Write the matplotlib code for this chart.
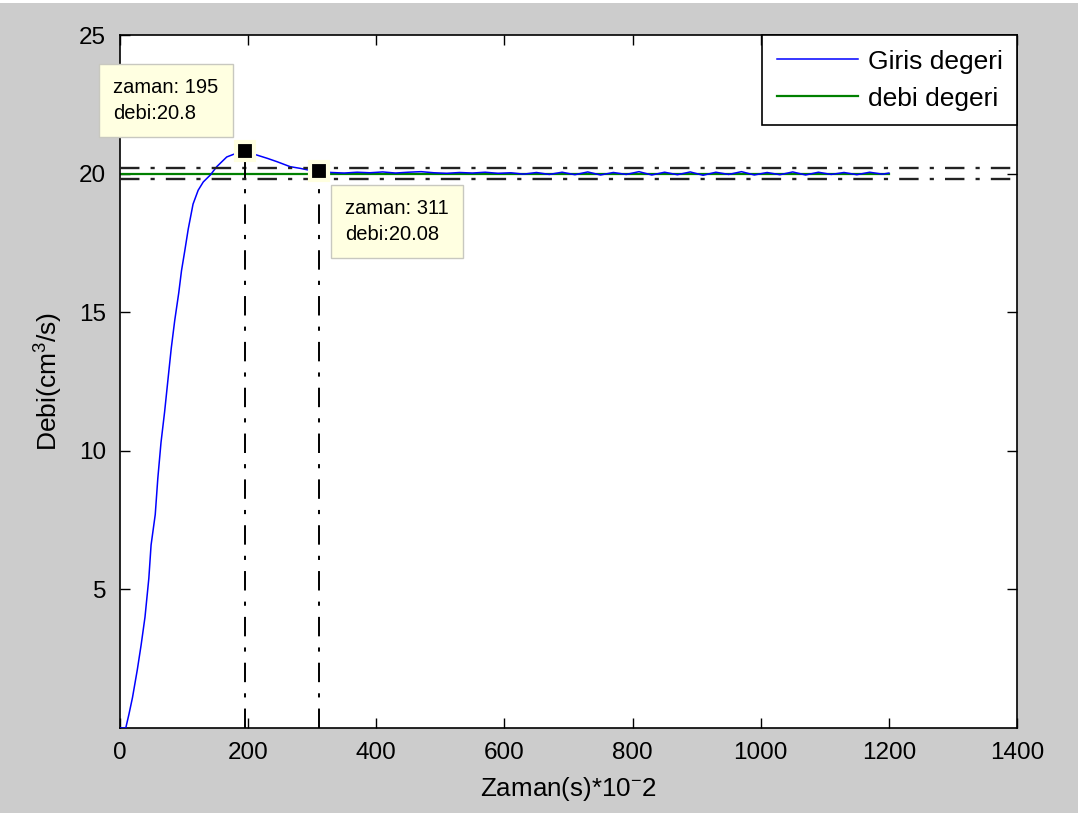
import matplotlib
matplotlib.use("Agg")
import matplotlib.pyplot as plt
from matplotlib.patches import Rectangle

plt.rcParams['font.family'] = ['Liberation Sans', 'DejaVu Sans']
plt.rcParams['mathtext.default'] = 'regular'
plt.rcParams['lines.scale_dashes'] = False

# Measured flow response (time in s*10^-2, flow in cm^3/s)
time_vals = [0, 9, 14, 19.5, 27, 33, 39, 45, 48.5, 55, 59, 64, 69.6, 75, 80,
             85.4, 91.7, 96, 101, 106.5, 114, 122, 130, 141, 151, 166.6, 180,
             195, 213.5, 230, 245, 265.6, 281, 296, 311,
             330, 350, 370, 390, 410, 430, 450, 470, 490, 510, 530, 550, 570,
             590, 610, 630, 650, 670, 690, 710, 730, 750, 770, 790, 810, 830,
             850, 870, 890, 910, 930, 950, 970, 990, 1010, 1030, 1050, 1070,
             1090, 1110, 1130, 1150, 1170, 1190, 1200]
flow_vals = [0, 0, 0.5, 1.1, 2.1, 3.0, 4.0, 5.4, 6.6, 7.7, 9.0, 10.3, 11.4, 12.6,
             13.7, 14.7, 15.7, 16.5, 17.2, 18.0, 18.9, 19.4, 19.7, 19.95, 20.25,
             20.6, 20.72, 20.8, 20.67, 20.55, 20.43, 20.25, 20.19, 20.12, 20.08,
             20.04, 20.02, 20.05, 20.03, 20.06, 20.02, 20.05, 20.07, 20.03, 20.01,
             20.04, 20.02, 20.05, 20.01, 20.03, 19.98, 20.04, 19.97, 20.05, 19.96,
             20.06, 19.95, 20.04, 19.97, 20.07, 19.95, 20.05, 19.96, 20.06, 19.94,
             20.05, 19.97, 20.07, 19.95, 20.04, 19.96, 20.06, 19.95, 20.05, 19.97,
             20.04, 19.96, 20.05, 19.98, 20.02]

# Reference (set) flow
ref_time = [0, 1200]
ref_flow = [20, 20]

# Tolerance band (+/- 1 %)
band_levels = [20.2, 19.8]

# Marked points
tip_times = [195, 311]
tip_flows = [20.8, 20.08]
tip_texts = ["zaman: 195\ndebi:20.8", "zaman: 311\ndebi:20.08"]

xticks = [0, 200, 400, 600, 800, 1000, 1200, 1400]
yticks = [5, 10, 15, 20, 25]

W, H = 1082, 813
fig = plt.figure(figsize=(W / 100, H / 100), dpi=100, facecolor='white')
fig.patches.append(Rectangle((0, 0), 1078 / W, 1 - 3 / H, transform=fig.transFigure,
                             facecolor='#cccccc', edgecolor='none', zorder=-10))

ax = fig.add_axes([120 / W, 85 / H, 897 / W, 693 / H])
ax.set_facecolor('white')

dashdot = (0, (14, 8, 3, 8))

ax.plot(ref_time, ref_flow, color=(0, 0.5, 0), lw=1.6, label='debi degeri', zorder=2)
ax.plot(time_vals, flow_vals, color=(0, 0, 1), lw=1.1, label='Giris degeri', zorder=3)

for lvl in band_levels:
    ax.plot([0, 1400], [lvl, lvl], color='#222222', lw=1.7, linestyle=dashdot, zorder=4)

for t, f in zip(tip_times, tip_flows):
    ax.plot([t, t], [0, f], color='black', lw=1.4, linestyle=dashdot, zorder=4)
    ax.plot([t], [f], marker='s', markersize=13, color='black',
            markeredgecolor='#ffffe0', markeredgewidth=3, zorder=6, clip_on=False)

offsets = [(-79, 51), (78, -50)]
for t, f, txt, off in zip(tip_times, tip_flows, tip_texts, offsets):
    ax.annotate(txt, xy=(t, f), xytext=off, textcoords='offset pixels',
                ha='center', va='center', multialignment='left',
                fontsize=14.5, linespacing=1.5,
                bbox=dict(boxstyle='square,pad=0.7', facecolor='#ffffe1',
                          edgecolor='#c8c8c0', linewidth=1.0),
                zorder=7, annotation_clip=False)

ax.set_xlim(0, 1400)
ax.set_ylim(0, 25)
ax.set_xticks(xticks)
ax.set_yticks(yticks)
ax.tick_params(direction='in', length=7, width=1.0, labelsize=17.5,
               top=True, right=True, pad=10, colors='black')
for s in ax.spines.values():
    s.set_linewidth(1.2)
    s.set_color('black')

ax.set_xlabel('Zaman(s)*10$^{-}$2', fontsize=18.7, labelpad=8)
ax.set_ylabel('Debi(cm$^3$/s)', fontsize=19, labelpad=10)

handles, labels = ax.get_legend_handles_labels()
leg = ax.legend(handles[::-1], labels[::-1], loc='upper right', fontsize=19,
                frameon=True, fancybox=False, framealpha=1, edgecolor='black',
                borderaxespad=0, handlelength=3.1, handletextpad=0.35,
                borderpad=0.55, labelspacing=0.5)
leg.get_frame().set_linewidth(1.2)
leg.set_zorder(8)

fig.savefig('out.png', dpi=100, facecolor=fig.get_facecolor())
